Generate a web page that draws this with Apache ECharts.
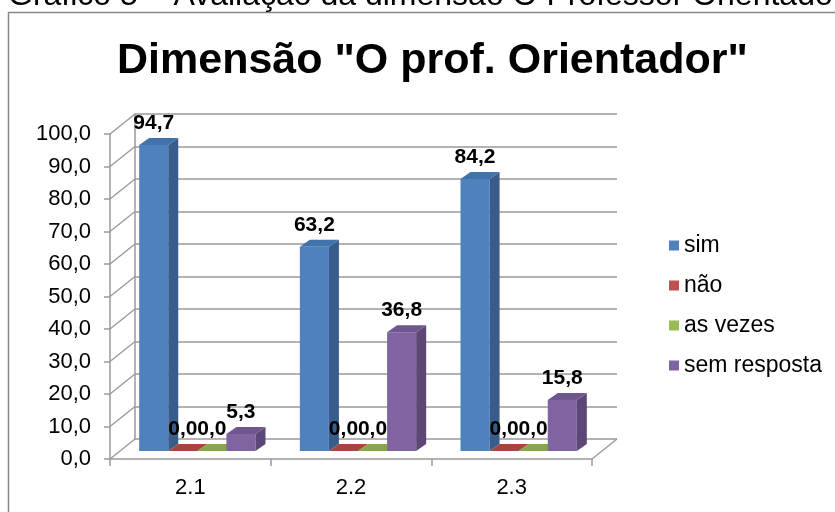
<!DOCTYPE html>
<html>
<head>
<meta charset="utf-8">
<script src="https://cdn.jsdelivr.net/npm/echarts@6/dist/echarts.min.js"></script>
<style>
  html, body { margin: 0; padding: 0; background: #fff; }
  #chart { width: 835px; height: 512px; }
</style>
</head>
<body>
<div id="chart"></div>
<script>
const categories = ['2.1', '2.2', '2.3'];
const seriesNames = ['sim', 'não', 'as vezes', 'sem resposta'];
const sim = [94.7, 63.2, 84.2];
const nao = [0.0, 0.0, 0.0];
const asVezes = [0.0, 0.0, 0.0];
const semResposta = [5.3, 36.8, 15.8];
const yTicks = [0, 10, 20, 30, 40, 50, 60, 70, 80, 90, 100];

const FONT = "'Liberation Sans', Arial, sans-serif";
const GRID_LINE = '#9a9a9a';
// face colours: front, side, top
const palette = [
  ['#4f81bd', '#385d8a', '#4272ab'],
  ['#c0504d', '#8c3836', '#a8433f'],
  ['#9bbb59', '#71893f', '#87a64a'],
  ['#8064a2', '#5c4776', '#6e568f']
];
const BAR_RATIO = 0.181;
const DX = 10, DY = 7;        // bar depth
const WALL_DX = 25, WALL_DY = 20; // floor depth

const fmt = v => v.toFixed(1).replace('.', ',');

function barRenderer(idx) {
  const c = palette[idx];
  return function (params, api) {
    const cat = api.value(0);
    const val = api.value(1);
    const base = api.coord([cat, 0]);
    const top = api.coord([cat, val]);
    const w = api.size([1, 0])[0] * BAR_RATIO;
    const x0 = base[0] - 2 * w + idx * w;
    const x1 = x0 + w;
    const yb = base[1], yt = top[1];
    return {
      type: 'group',
      children: [
        { type: 'rect', shape: { x: x0, y: yt, width: w, height: yb - yt }, style: { fill: c[0] } },
        { type: 'polygon', shape: { points: [[x1, yt], [x1 + DX, yt - DY], [x1 + DX, yb - DY], [x1, yb]] }, style: { fill: c[1] } },
        { type: 'polygon', shape: { points: [[x0, yt], [x0 + DX, yt - DY], [x1 + DX, yt - DY], [x1, yt]] }, style: { fill: c[2] } },
        {
          type: 'text', z2: 10,
          style: {
            text: fmt(val), x: x0 + w / 2, y: yt - DY - 4,
            align: 'center', verticalAlign: 'bottom',
            font: 'bold 21px ' + FONT, fill: '#000'
          }
        }
      ]
    };
  };
}

function diagRenderer(params, api) {
  const v = api.value(1);
  const band = api.size([1, 0])[0];
  const first = api.coord([0, v]);
  const xl = first[0] - band / 2;
  const y = first[1];
  const lineStyle = { stroke: GRID_LINE, lineWidth: 1.5 };
  const children = [
    { type: 'line', shape: { x1: xl, y1: y, x2: xl + WALL_DX, y2: y - WALL_DY }, style: lineStyle }
  ];
  if (v === 0) {
    const last = api.coord([categories.length - 1, 0]);
    const xr = last[0] + band / 2;
    children.push({ type: 'line', shape: { x1: xr, y1: y, x2: xr + WALL_DX, y2: y - WALL_DY }, style: lineStyle });
  }
  return { type: 'group', children };
}

const values = [sim, nao, asVezes, semResposta];

const chart = echarts.init(document.getElementById('chart'));
chart.setOption({
  animation: false,
  textStyle: { fontFamily: FONT },
  graphic: [
    {
      type: 'rect', silent: true,
      shape: { x: 8.5, y: 12.5, width: 900, height: 600 },
      style: { fill: 'none', stroke: '#888', lineWidth: 1.5 }
    },
    {
      type: 'text', left: 8, top: -20,
      style: { text: 'Gráfico 5 – Avaliação da dimensão O Professor Orientador', font: '32px ' + FONT, fill: '#000' }
    }
  ],
  title: {
    text: 'Dimensão "O prof. Orientador"',
    left: 112, top: 35,
    textStyle: { fontFamily: FONT, fontSize: 43, fontWeight: 'bold', color: '#000' }
  },
  legend: {
    data: seriesNames,
    orient: 'vertical',
    left: 664, top: 229,
    itemWidth: 10, itemHeight: 10, itemGap: 17,
    icon: 'rect',
    textStyle: { fontFamily: FONT, fontSize: 23, color: '#000' }
  },
  grid: [
    { left: 110, top: 134, width: 482, height: 325 },           // front
    { left: 135, top: 114, width: 482, height: 325 },           // back wall
    { left: 117, top: 128, width: 482, height: 323 }            // bars
  ],
  xAxis: [
    {
      gridIndex: 0, type: 'category', data: categories,
      axisLine: { lineStyle: { color: GRID_LINE, width: 1.5 } },
      axisTick: { show: true, length: 7, lineStyle: { color: GRID_LINE, width: 1.5 } },
      axisLabel: { fontFamily: FONT, fontSize: 22, color: '#000', margin: 18 }
    },
    {
      gridIndex: 1, type: 'category', data: categories,
      axisLine: { show: false }, axisTick: { show: false }, axisLabel: { show: false }
    },
    {
      gridIndex: 2, type: 'category', data: categories,
      axisLine: { show: false }, axisTick: { show: false }, axisLabel: { show: false }
    }
  ],
  yAxis: [
    {
      gridIndex: 0, type: 'value', min: 0, max: 100, interval: 10,
      axisLine: { show: true, lineStyle: { color: GRID_LINE, width: 1.5 } },
      axisTick: { show: true, length: 6, lineStyle: { color: GRID_LINE, width: 1.5 } },
      splitLine: { show: false },
      axisLabel: { fontFamily: FONT, fontSize: 22, color: '#000', margin: 19, formatter: fmt }
    },
    {
      gridIndex: 1, type: 'value', min: 0, max: 100, interval: 10,
      axisLine: { show: true, lineStyle: { color: GRID_LINE, width: 1.5 } },
      axisTick: { show: false }, axisLabel: { show: false },
      splitLine: { show: true, lineStyle: { color: GRID_LINE, width: 1.5 } }
    },
    {
      gridIndex: 2, type: 'value', min: 0, max: 100, interval: 10,
      axisLine: { show: false }, axisTick: { show: false }, axisLabel: { show: false },
      splitLine: { show: false }
    }
  ],
  series: [
    {
      type: 'custom', name: 'walls', xAxisIndex: 0, yAxisIndex: 0, silent: true,
      clip: false, z: 1,
      data: yTicks.map(v => [0, v]),
      renderItem: diagRenderer
    }
  ].concat(seriesNames.map((name, i) => ({
    type: 'custom', name, xAxisIndex: 2, yAxisIndex: 2, z: 3 + i, clip: false,
    itemStyle: { color: palette[i][0] },
    data: values[i].map((v, j) => [j, v]),
    renderItem: barRenderer(i)
  })))
});
</script>
</body>
</html>
